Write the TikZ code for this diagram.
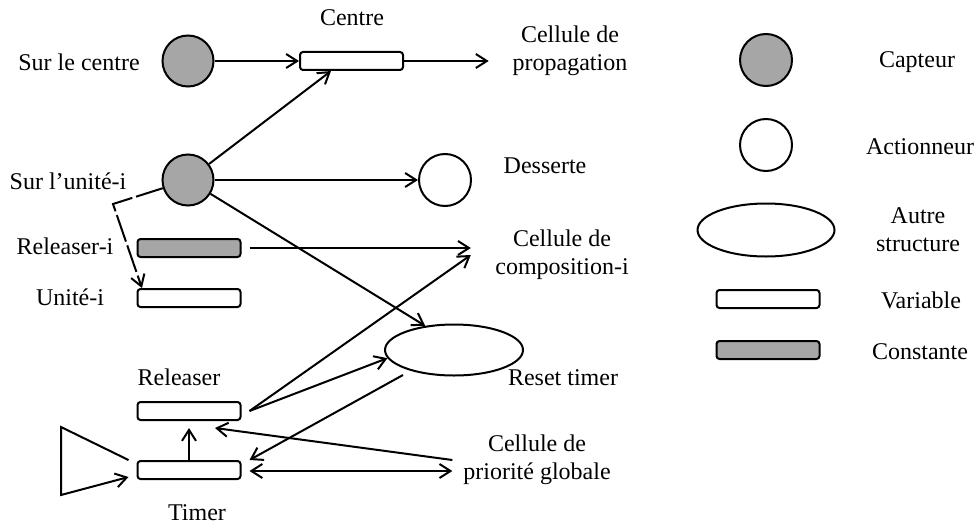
\documentclass[tikz,border=0pt]{standalone}
\usepackage{fontspec}
\setmainfont{Liberation Serif}
\usetikzlibrary{arrows.meta,shapes.geometric,calc}
\definecolor{sensorgray}{RGB}{166,166,166}
\begin{document}
\begin{tikzpicture}[x=0.5pt,y=-0.5pt,
  line width=1pt,
  every node/.style={font=\fontsize{12}{14}\selectfont},
  arr/.style={-{Straight Barb[length=5.5pt,width=7pt]}},
  darr/.style={{Straight Barb[length=5.5pt,width=7pt]}-{Straight Barb[length=5.5pt,width=7pt]}},
  sensorbox/.style={circle,draw,fill=sensorgray,minimum size=25.5pt,inner sep=0pt},
  actuatorbox/.style={circle,draw,fill=white,minimum size=26pt,inner sep=0pt},
  structbox/.style={ellipse,draw,minimum width=69pt,minimum height=25.5pt,inner sep=0pt},
  varbox/.style={rectangle,rounded corners=1.5pt,draw,minimum width=51.5pt,minimum height=9pt,inner sep=0pt},
  constbox/.style={varbox,fill=sensorgray},
  lbl/.style={inner sep=0pt,align=center},
  linkdash/.style={dash pattern=on 14pt off 2pt},
]
\useasboundingbox (0,0) rectangle (977,524);

% sensors, actuators and structures
\node[sensorbox] (scentre) at (188,61) {};
\node[sensorbox] (sunite) at (188,180) {};
\node[actuatorbox] (desserte) at (445,180) {};
\node[varbox] (centre) at (351.5,61) {};
\node[constbox] (releaseri) at (189,248) {};
\node[varbox] (unitei) at (189,298) {};
\node[varbox] (releaser) at (189,411) {};
\node[varbox] (timer) at (189,470) {};
\node[structbox] (reset) at (454,350) {};

% labels
\node[lbl] (tcentre) at (352,18) {Centre};
\node[lbl] (tscentre) at (79,62) {Sur le centre};
\node[lbl] (propag) at (570,51) {Cellule de\\propagation};
\node[lbl] (tsunite) at (68,181) {Sur l’unité-i};
\node[lbl] (tdesserte) at (545,166) {Desserte};
\node[lbl] (treleaseri) at (65,246) {Releaser-i};
\node[lbl] (compo) at (562,255) {Cellule de\\composition-i};
\node[lbl] (tunitei) at (70,297) {Unité-i};
\node[lbl] (treset) at (563,378) {Reset timer};
\node[lbl] (treleaser) at (179,377) {Releaser};
\node[lbl] (prio) at (537,460) {Cellule de\\priorité globale};
\node[lbl] (ttimer) at (197,513) {Timer};

% clock symbol corners and the bend of the dashed link
\coordinate (clkT) at (61,427);
\coordinate (clkB) at (61,495);
\coordinate (bend) at (113,204);

% connectors
\draw[arr] (scentre) -- (centre);
\draw[arr] (centre.east) -- ($(centre.east -| propag.west)+(-23,0)$);
\draw[arr] (sunite) -- (centre.-154);
\draw[arr] (sunite) -- (desserte);
\draw[arr] (sunite) -- (reset.140);
\draw[arr,linkdash] (sunite.198) -- (bend) -- (unitei.168);
\draw[arr] ($(releaseri.east)+(8,0)$) -- ($(releaseri.east -| compo.west)+(-23.5,0)$);
\draw[arr] ($(releaser.east)+(8,0)$) -- ($(compo.west)+(-23.5,0)$);
\draw[arr] ($(releaser.east)+(8,0)$) -- (reset.187);
\draw[arr] ($(reset.center)+(-51,25)$) -- ($(timer.north east)+(8,0)$);
\draw[arr] ($(prio.west)+(-10,0)$) -- ($(releaser.south)+(26,7)$);
\draw[darr] ($(timer.east)+(8,1)$) -- ($(prio.west |- timer.east)+(-10,1)$);
\draw[arr] (timer.north) -- ($(releaser.south)+(0,7)$);
\draw[arr] ($(timer.north west)+(-8,0)$) -- (clkT) -- (clkB) -- ($(timer.west)+(-8,7)$);

% legend
\node[sensorbox,minimum size=26pt] (lcapteur) at (766,60) {};
\node[actuatorbox] (lactionneur) at (766,145) {};
\node[structbox,minimum width=68.5pt,minimum height=26.5pt] (lautre) at (766,230) {};
\node[varbox] (lvariable) at (768,299) {};
\node[constbox] (lconstante) at (768,350) {};
\node[lbl] (tlcapteur) at (917,62) {Capteur};
\node[lbl] (tlactionneur) at (920,147) {Actionneur};
\node[lbl] (tlautre) at (918,230) {Autre\\structure};
\node[lbl] (tlvariable) at (921,300) {Variable};
\node[lbl] (tlconstante) at (920,352) {Constante};
\end{tikzpicture}
\end{document}
